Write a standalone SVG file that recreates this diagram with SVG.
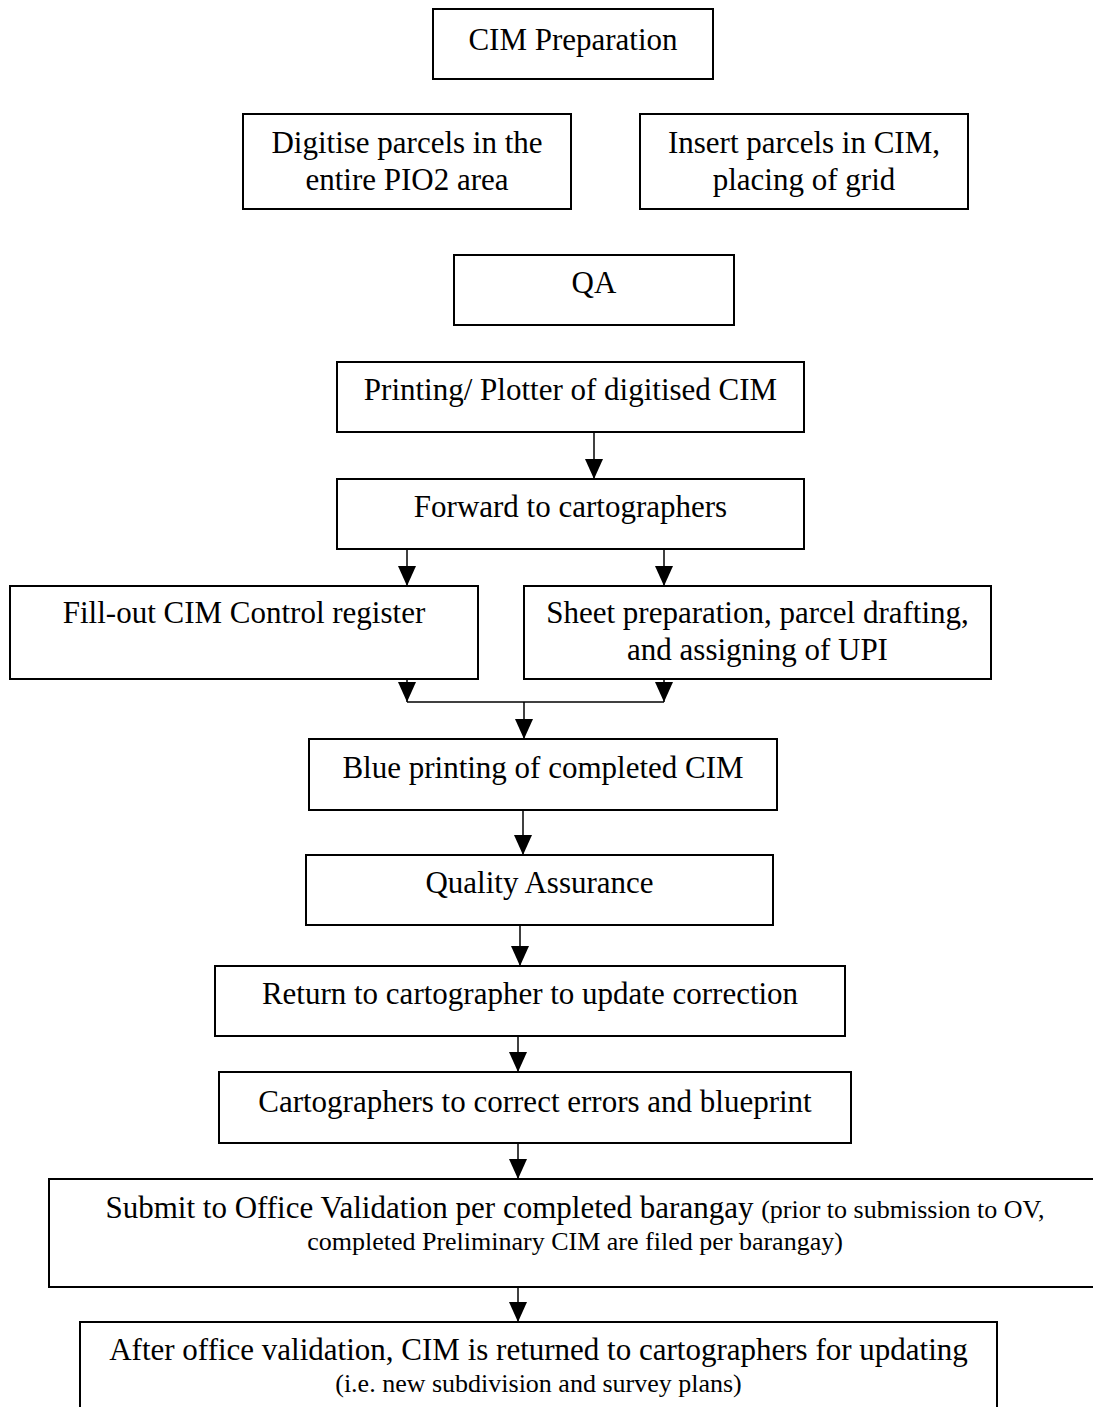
<svg xmlns="http://www.w3.org/2000/svg" width="1093" height="1407" viewBox="0 0 1093 1407">
<style>
  .box { fill: #ffffff; stroke: #000000; stroke-width: 2; }
  .t { font-family: "Liberation Serif", "Times New Roman", serif; font-size: 31px; fill: #000000; text-anchor: middle; }
  .s { font-size: 26px; }
  .c { fill: none; stroke: #000000; stroke-width: 1.5; }
</style>
<defs>
  <marker id="ah" markerUnits="userSpaceOnUse" markerWidth="20" markerHeight="18" refX="20" refY="9" orient="auto">
    <path d="M0,0 L20,9 L0,18 Z" fill="#000000"/>
  </marker>
</defs>
<rect width="1093" height="1407" fill="#ffffff"/>

<g id="n1"><rect class="box" x="433" y="9" width="280" height="70"/><text class="t" x="573" y="50">CIM Preparation</text></g>
<g id="n2"><rect class="box" x="243" y="114" width="328" height="95"/><text class="t" x="407" y="153">Digitise parcels in the</text><text class="t" x="407" y="190">entire PIO2 area</text></g>
<g id="n3"><rect class="box" x="640" y="114" width="328" height="95"/><text class="t" x="804" y="153">Insert parcels in CIM,</text><text class="t" x="804" y="190">placing of grid</text></g>
<g id="n4"><rect class="box" x="454" y="255" width="280" height="70"/><text class="t" x="594" y="293">QA</text></g>
<g id="n5"><rect class="box" x="337" y="362" width="467" height="70"/><text class="t" x="570.5" y="400">Printing/ Plotter of digitised CIM</text></g>
<g id="n6"><rect class="box" x="337" y="479" width="467" height="70"/><text class="t" x="570.5" y="517">Forward to cartographers</text></g>
<g id="n7"><rect class="box" x="10" y="586" width="468" height="93"/><text class="t" x="244" y="623">Fill-out CIM Control register</text></g>
<g id="n8"><rect class="box" x="524" y="586" width="467" height="93"/><text class="t" x="757.5" y="623">Sheet preparation, parcel drafting,</text><text class="t" x="757.5" y="660">and assigning of UPI</text></g>
<g id="n9"><rect class="box" x="309" y="739" width="468" height="71"/><text class="t" x="543" y="778">Blue printing of completed CIM</text></g>
<g id="n10"><rect class="box" x="306" y="855" width="467" height="70"/><text class="t" x="539.5" y="893">Quality Assurance</text></g>
<g id="n11"><rect class="box" x="215" y="966" width="630" height="70"/><text class="t" x="530" y="1004">Return to cartographer to update correction</text></g>
<g id="n12"><rect class="box" x="219" y="1072" width="632" height="71"/><text class="t" x="535" y="1112">Cartographers to correct errors and blueprint</text></g>
<g id="n13"><rect class="box" x="49" y="1179" width="1052" height="108"/><text class="t" x="575" y="1218">Submit to Office Validation per completed barangay <tspan class="s">(prior to submission to OV,</tspan></text><text class="t s" x="575" y="1250">completed Preliminary CIM are filed per barangay)</text></g>
<g id="n14"><rect class="box" x="80" y="1322" width="917" height="100"/><text class="t" x="538.5" y="1360">After office validation, CIM is returned to cartographers for updating</text><text class="t s" x="538.5" y="1392">(i.e. new subdivision and survey plans)</text></g>

<g id="connectors">
  <line class="c" x1="594" y1="432" x2="594" y2="479" marker-end="url(#ah)"/>
  <line class="c" x1="407" y1="549" x2="407" y2="586" marker-end="url(#ah)"/>
  <line class="c" x1="664" y1="549" x2="664" y2="586" marker-end="url(#ah)"/>
  <line class="c" x1="407" y1="679" x2="407" y2="702" marker-end="url(#ah)"/>
  <line class="c" x1="664" y1="679" x2="664" y2="702" marker-end="url(#ah)"/>
  <line class="c" x1="407" y1="702" x2="664" y2="702"/>
  <line class="c" x1="524" y1="702" x2="524" y2="739" marker-end="url(#ah)"/>
  <line class="c" x1="523" y1="810" x2="523" y2="855" marker-end="url(#ah)"/>
  <line class="c" x1="520" y1="925" x2="520" y2="966" marker-end="url(#ah)"/>
  <line class="c" x1="518" y1="1036" x2="518" y2="1072" marker-end="url(#ah)"/>
  <line class="c" x1="518" y1="1143" x2="518" y2="1179" marker-end="url(#ah)"/>
  <line class="c" x1="518" y1="1287" x2="518" y2="1322" marker-end="url(#ah)"/>
</g>
</svg>
